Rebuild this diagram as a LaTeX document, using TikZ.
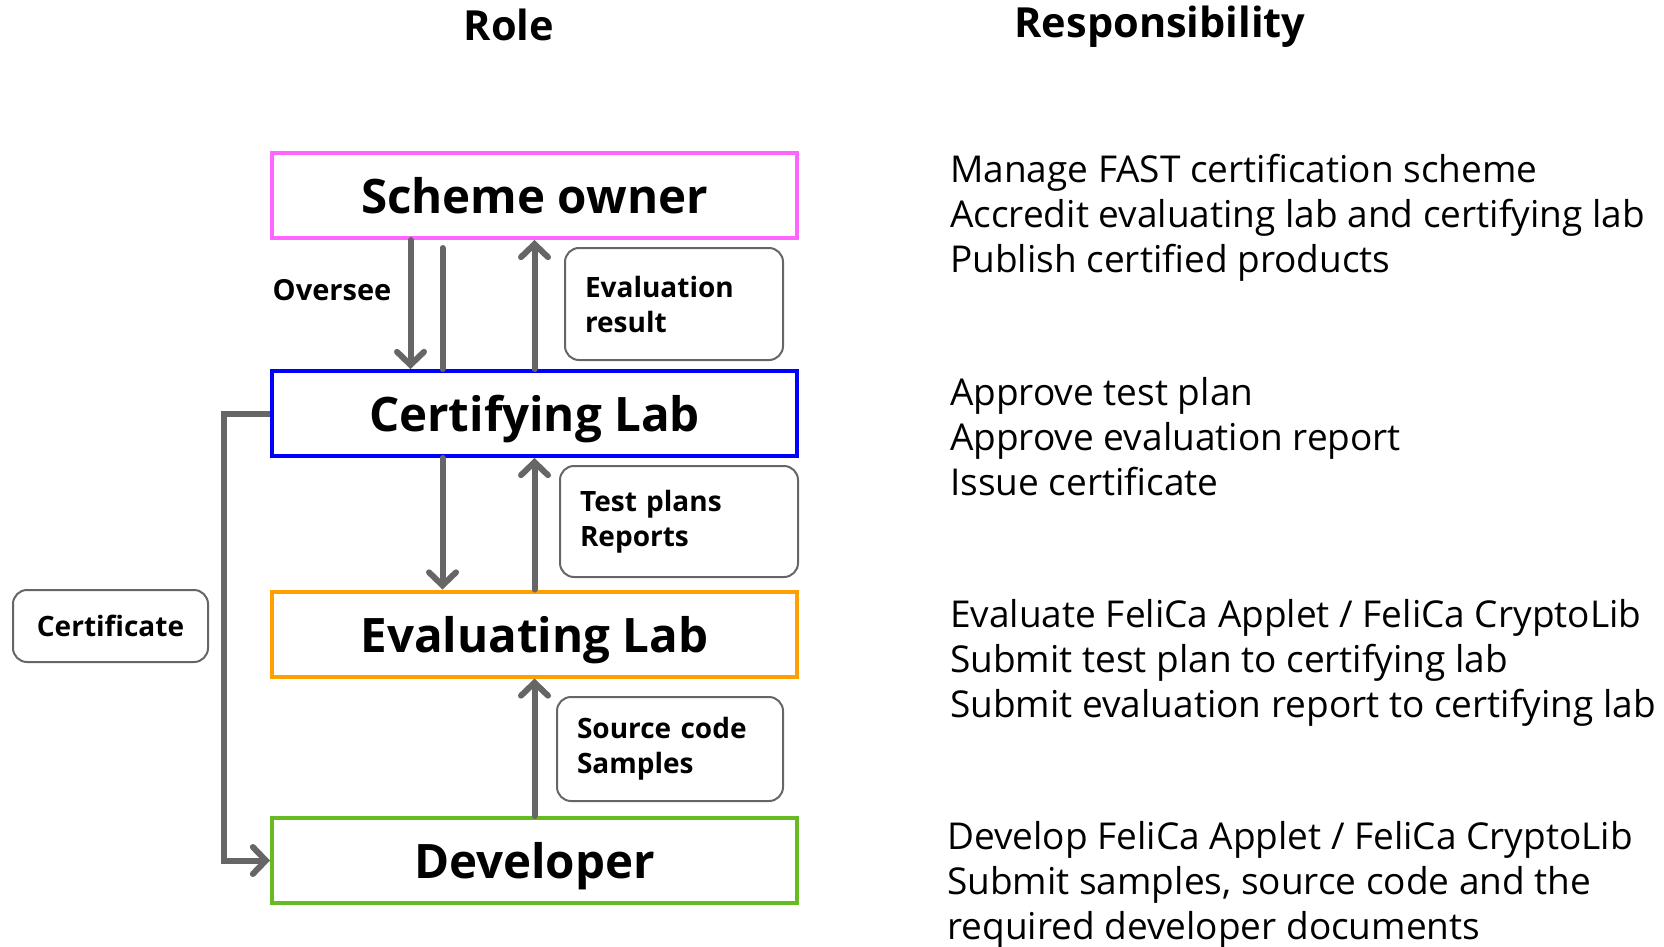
\documentclass[tikz,border=0pt]{standalone}
\usepackage{fontspec}
\setmainfont{Open Sans}
\usetikzlibrary{arrows.meta}

\definecolor{ownerpink}{HTML}{FF66FF}
\definecolor{certblue}{HTML}{0000FF}
\definecolor{evalorange}{HTML}{FFA000}
\definecolor{devgreen}{HTML}{66BB22}
\definecolor{flowgray}{HTML}{666666}

\tikzset{
    role/.style={draw, line width=4pt, minimum width=525pt, minimum height=85pt,
        text depth=0pt, font=\fontsize{47.5}{57}\selectfont\bfseries},
    flow/.style={draw=flowgray, line width=6pt, line cap=round},
    flowarrow/.style={flow, -{Straight Barb[length=13pt, width=27pt, line cap=round]}},
    tag/.style={draw=flowgray, line width=2pt, rounded corners=14pt, align=left,
        inner xsep=20pt, font=\fontsize{28}{35}\selectfont\bfseries},
    resp/.style={anchor=west, align=left, inner sep=0pt,
        font=\fontsize{37}{45}\selectfont},
    head/.style={font=\fontsize{41.5}{50}\selectfont\bfseries},
}

\begin{document}
\begin{tikzpicture}[x=1pt, y=-1pt]
    \useasboundingbox (0,0) rectangle (1664,947);

    \node[head] (rolehead) at (509,25) {Role};
    \node[head] (resphead) at (1160,27) {Responsibility};

    % roles
    \node[role, draw=ownerpink] (owner) at (534.5,195.5) {Scheme owner};
    \node[role, draw=certblue] (cert) at (534.5,413.5) {Certifying Lab};
    \node[role, draw=evalorange] (eval) at (534.5,634) {Evaluating Lab};
    \node[role, draw=devgreen] (dev) at (534.5,860.5) {Developer};

    % what goes between them
    \node[tag, text width=178pt, minimum height=112pt] (result) at (674,304) {Evaluation\\result};
    \node[tag, text width=198pt, minimum height=111pt] (plans) at (679,521.5) {Test plans\\Reports};
    \node[tag, text width=186pt, minimum height=104pt] (source) at (670,749) {Source code\\Samples};
    \node[tag, minimum width=195pt, minimum height=72pt] (certificate) at (110.5,626) {Certificate};
    \node[font=\fontsize{29}{35}\selectfont\bfseries] (oversee) at (332,290) {Oversee};

    \draw[flowarrow] ([xshift=-124pt]owner.south) -- ([xshift=-124pt]cert.north);
    \draw[flow, shorten <=8pt] ([xshift=-92pt]owner.south) -- ([xshift=-92pt]cert.north);
    \draw[flowarrow] ([xshift=-92pt]cert.south) -- ([xshift=-92pt]eval.north);
    \draw[flowarrow] (cert.north) -- (owner.south);
    \draw[flowarrow] (eval.north) -- (cert.south);
    \draw[flowarrow] (dev.north) -- (eval.south);
    \draw[flowarrow, line cap=butt] (cert.west) -- ++(-46,0) |- (dev.west);

    % responsibilities
    \node[resp] (ownerresp) at (950,218) {Manage FAST certification scheme\\
        Accredit evaluating lab and certifying lab\\Publish certified products};
    \node[resp] (certresp) at (950,437) {Approve test plan\\
        Approve evaluation report\\Issue certificate};
    \node[resp] (evalresp) at (950,663) {Evaluate FeliCa Applet / FeliCa CryptoLib\\
        Submit test plan to certifying lab\\Submit evaluation report to certifying lab};
    \node[resp] (devresp) at (947,885) {Develop FeliCa Applet / FeliCa CryptoLib\\
        Submit samples, source code and the\\required developer documents};
\end{tikzpicture}
\end{document}
